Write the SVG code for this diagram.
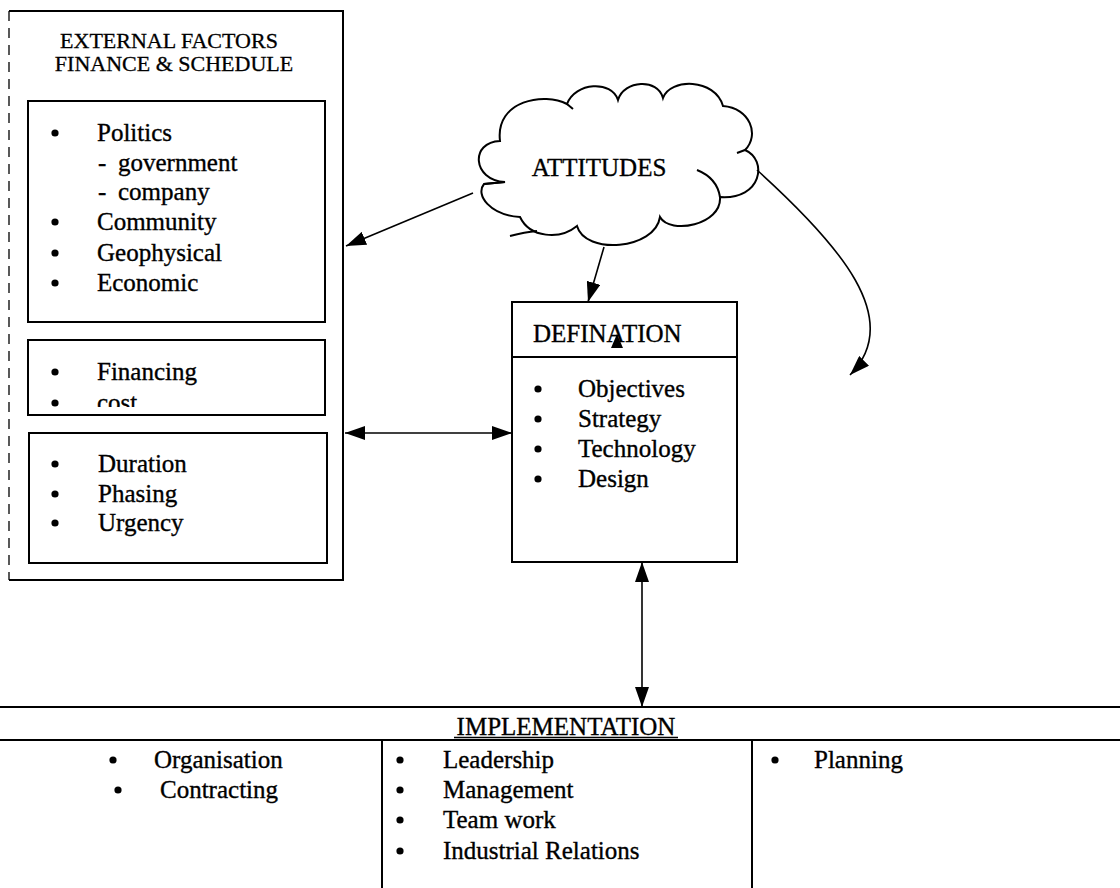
<svg xmlns="http://www.w3.org/2000/svg" width="1120" height="888" viewBox="0 0 1120 888">
<style>
  .t { font-family: "Liberation Serif", "Times New Roman", serif; font-size: 25px; fill: #000; stroke: #000; stroke-width: 0.35; }
  .tt { font-family: "Liberation Serif", "Times New Roman", serif; font-size: 22px; fill: #000; stroke: #000; stroke-width: 0.3; }
  .box { fill: none; stroke: #000; stroke-width: 2; }
  .ln { fill: none; stroke: #000; stroke-width: 2; }
  .con { fill: none; stroke: #000; stroke-width: 1.6; }
  .dot { fill: #000; }
</style>
<defs>
  <marker id="ah" viewBox="0 0 20 14" refX="20" refY="7" markerWidth="20" markerHeight="14" markerUnits="userSpaceOnUse" orient="auto-start-reverse">
    <path d="M0,0 L20,7 L0,14 z" fill="#000"/>
  </marker>
  <clipPath id="clipcost"><rect x="28" y="340" width="297" height="67"/></clipPath>
</defs>
<rect width="1120" height="888" fill="#fff"/>

<g id="external-factors">
  <path class="box" d="M9,11 L343,11 L343,580 L9,580"/>
  <line x1="9" y1="11" x2="9" y2="580" stroke="#000" stroke-width="1.3" stroke-dasharray="10 7"/>
  <text class="tt" x="169" y="48" text-anchor="middle">EXTERNAL FACTORS</text>
  <text class="tt" x="174" y="71" text-anchor="middle">FINANCE &amp; SCHEDULE</text>
</g>

<g id="politics-box">
  <rect class="box" x="28" y="101" width="297" height="221"/>
  <circle class="dot" cx="55" cy="133" r="3.6"/>
  <text class="t" x="97" y="141">Politics</text>
  <text class="t" x="98" y="171">-<tspan x="118">government</tspan></text>
  <text class="t" x="98" y="200">-<tspan x="118">company</tspan></text>
  <circle class="dot" cx="55" cy="222" r="3.6"/>
  <text class="t" x="97" y="230">Community</text>
  <circle class="dot" cx="55" cy="253" r="3.6"/>
  <text class="t" x="97" y="261">Geophysical</text>
  <circle class="dot" cx="55" cy="283" r="3.6"/>
  <text class="t" x="97" y="291">Economic</text>
</g>

<g id="financing-box">
  <rect class="box" x="28" y="340" width="297" height="75"/>
  <circle class="dot" cx="55" cy="372" r="3.6"/>
  <text class="t" x="97" y="380">Financing</text>
  <g clip-path="url(#clipcost)">
    <circle class="dot" cx="55" cy="403" r="3.6"/>
    <text class="t" x="97" y="411">cost</text>
  </g>
</g>

<g id="schedule-box">
  <rect class="box" x="29" y="433" width="298" height="130"/>
  <circle class="dot" cx="55" cy="464" r="3.6"/>
  <text class="t" x="98" y="472">Duration</text>
  <circle class="dot" cx="55" cy="494" r="3.6"/>
  <text class="t" x="98" y="502">Phasing</text>
  <circle class="dot" cx="55" cy="523" r="3.6"/>
  <text class="t" x="98" y="531">Urgency</text>
</g>

<g id="attitudes">
  <path fill="#fff" stroke="#000" stroke-width="2" d="M505,182 C472,180 470,142 500,141 C495,100 545,92 567,104 C575,82 612,80 618,100 C624,80 658,78 663,98 C670,78 715,78 723,106 C750,108 760,135 745,150 C768,160 762,200 720,197 C722,225 670,235 660,217 C655,250 585,255 577,226 C560,240 530,238 520,217 C490,215 475,195 484,184 Z"/>
  <path fill="none" stroke="#000" stroke-width="2" d="M697,170 Q717,178 720,197 M510,236 Q525,232 537,231 M567,104 L573,109 M745,150 L737,153 M484,184 L505,182"/>
  <text class="t" x="599" y="176" text-anchor="middle">ATTITUDES</text>
</g>

<g id="defination">
  <rect class="box" x="512" y="302" width="225" height="260"/>
  <line class="ln" x1="512" y1="357" x2="737" y2="357"/>
  <text class="t" x="533" y="342">DEFINATION</text>
  <polygon points="617,334 611,348 623,348" fill="#000"/>
  <circle class="dot" cx="538" cy="389" r="3.6"/>
  <text class="t" x="578" y="397">Objectives</text>
  <circle class="dot" cx="538" cy="419" r="3.6"/>
  <text class="t" x="578" y="427">Strategy</text>
  <circle class="dot" cx="538" cy="449" r="3.6"/>
  <text class="t" x="578" y="457">Technology</text>
  <circle class="dot" cx="538" cy="479" r="3.6"/>
  <text class="t" x="578" y="487">Design</text>
</g>

<g id="implementation">
  <line class="ln" x1="0" y1="707" x2="1120" y2="707"/>
  <line class="ln" x1="0" y1="740" x2="1120" y2="740"/>
  <text class="t" x="566" y="735" text-anchor="middle">IMPLEMENTATION</text>
  <line x1="454" y1="737.5" x2="678" y2="737.5" stroke="#000" stroke-width="1.3"/>
  <line class="ln" x1="382" y1="740" x2="382" y2="888"/>
  <line class="ln" x1="752" y1="740" x2="752" y2="888"/>
  <circle class="dot" cx="113" cy="760" r="3.6"/>
  <text class="t" x="154" y="768">Organisation</text>
  <circle class="dot" cx="118" cy="790" r="3.6"/>
  <text class="t" x="160" y="798">Contracting</text>
  <circle class="dot" cx="400" cy="760" r="3.6"/>
  <text class="t" x="443" y="768">Leadership</text>
  <circle class="dot" cx="400" cy="790" r="3.6"/>
  <text class="t" x="443" y="798">Management</text>
  <circle class="dot" cx="400" cy="820" r="3.6"/>
  <text class="t" x="443" y="828">Team work</text>
  <circle class="dot" cx="400" cy="851" r="3.6"/>
  <text class="t" x="443" y="859">Industrial Relations</text>
  <circle class="dot" cx="775" cy="760" r="3.6"/>
  <text class="t" x="814" y="768">Planning</text>
</g>

<g id="connectors">
  <line class="con" x1="473" y1="193" x2="346" y2="246" marker-end="url(#ah)"/>
  <line class="con" x1="604" y1="247" x2="588" y2="302" marker-end="url(#ah)"/>
  <path class="con" d="M757,170 C840,245 905,320 850,375" marker-end="url(#ah)"/>
  <line class="con" x1="345" y1="433" x2="512" y2="433" marker-start="url(#ah)" marker-end="url(#ah)"/>
  <line class="con" x1="642" y1="562" x2="642" y2="707" marker-start="url(#ah)" marker-end="url(#ah)"/>
</g>
</svg>
